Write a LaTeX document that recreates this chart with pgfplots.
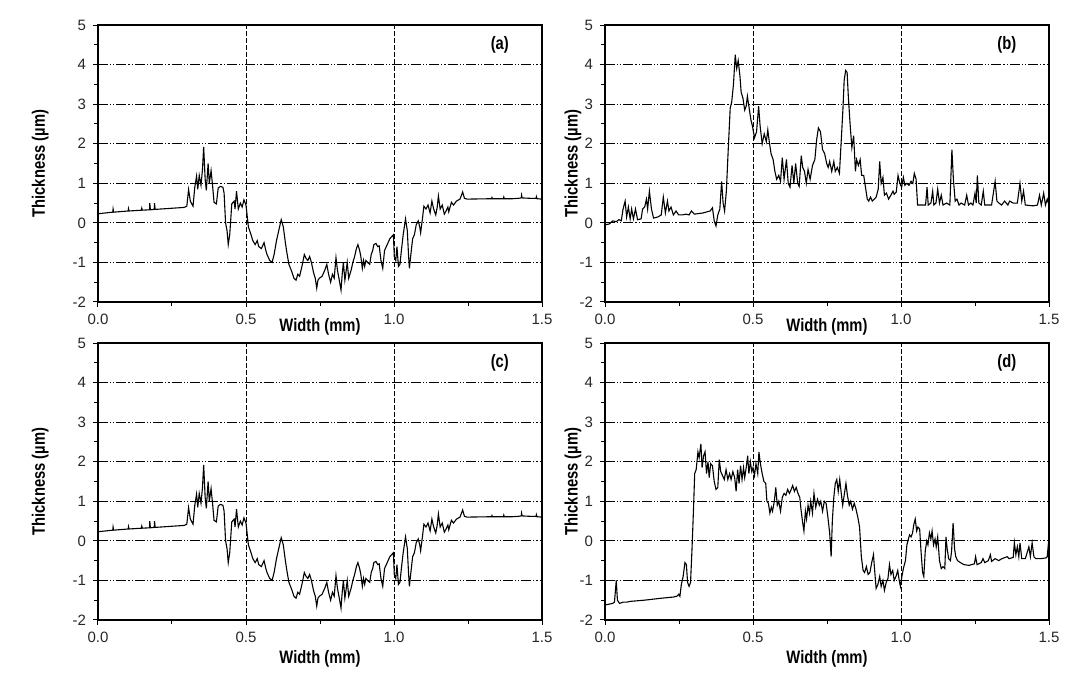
\documentclass[border=0pt]{standalone}
\usepackage{fontspec}
\setmainfont{Liberation Sans}
\newfontfamily\labfont[FakeStretch=0.82]{Liberation Sans}
\usepackage{pgfplots}
\usepackage{pgfplotstable}
\pgfplotsset{compat=1.18}

% profile (a), also used for (c)
\pgfplotstableread{
x y
0.000 0.23
0.050 0.27
0.051 0.35
0.053 0.27
0.102 0.30
0.103 0.36
0.105 0.30
0.147 0.32
0.148 0.37
0.150 0.32
0.174 0.33
0.175 0.50
0.177 0.33
0.190 0.34
0.191 0.50
0.193 0.34
0.291 0.39
0.300 0.42
0.306 0.84
0.312 0.55
0.321 0.42
0.327 0.90
0.333 1.18
0.337 0.85
0.342 1.20
0.348 0.95
0.353 1.35
0.357 1.92
0.362 1.10
0.366 0.82
0.372 1.50
0.376 1.00
0.382 1.32
0.387 0.95
0.392 0.52
0.400 0.48
0.406 0.88
0.413 0.92
0.422 0.90
0.426 0.75
0.431 0.00
0.436 -0.20
0.440 -0.55
0.445 -0.30
0.452 0.48
0.460 0.55
0.463 0.35
0.468 0.80
0.474 0.35
0.481 0.50
0.487 0.40
0.493 0.58
0.500 0.45
0.508 -0.10
0.517 -0.30
0.523 -0.45
0.531 -0.55
0.538 -0.45
0.543 -0.60
0.552 -0.65
0.561 -0.50
0.567 -0.70
0.571 -0.80
0.580 -0.95
0.588 -1.00
0.595 -0.80
0.603 -0.45
0.612 -0.15
0.619 0.08
0.626 -0.10
0.633 -0.50
0.638 -0.75
0.645 -1.05
0.653 -1.20
0.662 -1.40
0.669 -1.45
0.675 -1.30
0.681 -1.35
0.689 -1.10
0.697 -0.80
0.703 -0.90
0.709 -0.95
0.715 -0.85
0.721 -1.00
0.728 -1.25
0.734 -1.40
0.739 -1.65
0.743 -1.45
0.748 -1.40
0.757 -1.35
0.766 -1.20
0.773 -1.05
0.779 -1.30
0.786 -1.50
0.792 -1.30
0.798 -1.40
0.804 -0.88
0.809 -1.20
0.814 -1.40
0.821 -1.70
0.825 -1.30
0.829 -1.00
0.834 -1.45
0.837 -1.30
0.842 -1.00
0.847 -1.40
0.855 -1.20
0.861 -1.00
0.867 -0.85
0.873 -0.65
0.878 -0.55
0.884 -0.70
0.888 -0.85
0.893 -1.15
0.897 -0.95
0.901 -1.10
0.905 -0.95
0.911 -1.00
0.918 -1.05
0.923 -0.80
0.928 -0.70
0.932 -0.55
0.939 -0.52
0.945 -0.60
0.950 -0.58
0.956 -0.95
0.962 -1.15
0.968 -0.70
0.974 -0.60
0.980 -0.50
0.986 -0.40
0.992 -0.35
0.998 -0.30
1.001 -0.85
1.006 -0.95
1.010 -0.60
1.015 -1.10
1.020 -1.05
1.025 -0.70
1.031 -0.30
1.039 0.10
1.045 -0.20
1.049 -0.80
1.052 -1.15
1.057 -0.80
1.063 -0.40
1.069 -0.30
1.075 -0.05
1.082 0.05
1.087 -0.10
1.090 -0.25
1.096 0.10
1.101 0.42
1.108 0.35
1.115 0.45
1.122 0.25
1.128 0.55
1.134 0.35
1.141 0.20
1.146 0.40
1.150 0.68
1.156 0.35
1.163 0.45
1.170 0.22
1.176 0.30
1.182 0.40
1.185 0.28
1.194 0.52
1.201 0.45
1.211 0.55
1.223 0.60
1.232 0.78
1.238 0.62
1.247 0.60
1.330 0.61
1.331 0.64
1.333 0.61
1.370 0.61
1.371 0.65
1.373 0.61
1.400 0.61
1.420 0.62
1.430 0.63
1.431 0.70
1.433 0.63
1.460 0.62
1.480 0.62
1.481 0.66
1.483 0.61
1.500 0.60
}\dataA

% profile (b)
\pgfplotstableread{
x y
0.000 -0.05
0.014 -0.03
0.026 0.05
0.038 0.03
0.047 0.08
0.055 0.05
0.061 0.35
0.068 0.55
0.073 0.15
0.079 0.40
0.085 0.10
0.090 0.35
0.096 0.10
0.103 0.35
0.110 0.08
0.122 0.10
0.127 0.35
0.134 0.40
0.140 0.60
0.144 0.35
0.150 0.80
0.157 0.35
0.164 0.12
0.179 0.15
0.190 0.20
0.197 0.65
0.204 0.25
0.211 0.55
0.216 0.30
0.223 0.40
0.231 0.20
0.240 0.30
0.249 0.20
0.261 0.20
0.273 0.22
0.284 0.20
0.292 0.30
0.302 0.22
0.331 0.25
0.355 0.30
0.363 0.38
0.369 0.05
0.375 -0.08
0.381 0.20
0.388 0.35
0.394 1.05
0.399 0.50
0.404 0.30
0.410 0.80
0.416 1.80
0.423 2.90
0.428 3.05
0.434 3.50
0.440 4.25
0.445 3.90
0.450 4.10
0.456 3.70
0.460 3.30
0.466 3.15
0.472 2.85
0.477 2.95
0.481 3.20
0.486 2.95
0.493 2.60
0.498 2.45
0.505 2.15
0.512 2.30
0.519 2.95
0.524 2.45
0.531 2.00
0.538 2.25
0.545 2.05
0.550 2.35
0.555 2.05
0.561 1.75
0.568 1.60
0.574 1.30
0.580 1.10
0.587 1.20
0.593 1.05
0.599 1.65
0.605 1.10
0.613 1.60
0.619 1.00
0.625 0.90
0.632 1.45
0.638 1.00
0.644 1.50
0.651 1.00
0.656 0.92
0.663 1.70
0.668 1.40
0.674 1.30
0.680 1.00
0.686 1.35
0.693 1.10
0.701 1.45
0.709 1.60
0.715 2.10
0.721 2.40
0.728 2.30
0.735 1.85
0.742 1.75
0.749 1.50
0.754 1.40
0.759 1.55
0.766 1.30
0.773 1.55
0.778 1.30
0.785 1.40
0.792 1.25
0.799 2.20
0.804 2.90
0.808 3.60
0.813 3.85
0.818 3.80
0.822 3.20
0.828 2.50
0.834 1.90
0.840 2.20
0.846 1.30
0.850 1.60
0.856 1.45
0.862 1.60
0.867 1.20
0.874 1.20
0.880 0.90
0.886 0.60
0.891 0.55
0.897 0.65
0.903 0.55
0.910 0.60
0.916 0.65
0.923 0.85
0.928 1.55
0.933 1.00
0.939 1.15
0.944 0.70
0.951 0.75
0.958 0.60
0.966 0.70
0.973 0.80
0.977 0.72
0.984 0.78
0.990 1.20
0.996 1.00
1.002 0.90
1.008 1.15
1.013 0.95
1.020 1.00
1.027 0.95
1.034 1.05
1.040 1.00
1.045 1.25
1.051 1.10
1.056 0.45
1.071 0.45
1.083 0.45
1.088 0.90
1.092 0.45
1.101 0.50
1.107 0.80
1.111 0.45
1.118 0.50
1.124 0.85
1.130 0.50
1.136 0.70
1.142 0.45
1.154 0.50
1.165 0.45
1.172 1.85
1.177 1.10
1.183 0.55
1.189 0.60
1.196 0.45
1.203 0.50
1.215 0.45
1.222 0.70
1.228 0.45
1.236 0.50
1.243 0.45
1.250 0.75
1.254 0.50
1.258 1.20
1.263 0.50
1.271 0.45
1.278 0.80
1.283 0.45
1.306 0.45
1.318 1.05
1.324 0.55
1.331 0.50
1.340 0.45
1.350 0.55
1.361 0.45
1.367 0.55
1.379 0.50
1.393 0.50
1.402 1.00
1.408 0.55
1.414 0.80
1.420 0.45
1.447 0.43
1.461 0.45
1.468 0.70
1.474 0.45
1.482 0.75
1.488 0.45
1.494 0.60
1.500 0.45
}\dataB

% profile (d)
\pgfplotstableread{
x y
0.000 -1.62
0.014 -1.60
0.026 -1.58
0.032 -1.55
0.038 -1.00
0.042 -1.50
0.049 -1.58
0.061 -1.55
0.073 -1.55
0.085 -1.53
0.132 -1.50
0.190 -1.45
0.231 -1.42
0.243 -1.40
0.249 -1.35
0.253 -1.40
0.258 -1.10
0.264 -0.90
0.270 -0.55
0.275 -0.60
0.279 -1.05
0.284 -1.15
0.289 -1.05
0.294 -0.20
0.299 0.80
0.303 1.70
0.308 1.80
0.314 2.25
0.318 2.10
0.324 2.45
0.328 1.85
0.333 2.15
0.338 2.25
0.343 1.70
0.348 2.00
0.352 1.60
0.357 1.95
0.363 1.90
0.369 1.50
0.375 1.30
0.381 1.35
0.386 2.05
0.391 1.75
0.397 1.65
0.403 1.55
0.409 1.80
0.415 1.55
0.421 1.70
0.426 1.55
0.432 1.75
0.438 1.60
0.443 1.25
0.448 1.80
0.453 1.45
0.458 1.90
0.463 1.55
0.468 1.85
0.472 1.60
0.477 1.85
0.482 2.15
0.486 1.70
0.491 2.00
0.496 1.75
0.500 1.85
0.505 1.65
0.510 1.95
0.516 1.70
0.520 2.25
0.525 1.95
0.531 1.70
0.537 1.50
0.543 1.45
0.547 1.00
0.552 0.95
0.557 0.70
0.562 0.85
0.566 0.75
0.572 1.00
0.577 1.35
0.582 0.90
0.587 1.00
0.593 0.75
0.599 1.10
0.605 1.20
0.611 1.15
0.617 1.30
0.623 1.20
0.629 1.30
0.634 1.40
0.640 1.25
0.646 1.35
0.652 1.20
0.658 1.10
0.662 0.80
0.668 0.45
0.672 0.25
0.677 0.75
0.681 0.55
0.686 0.90
0.691 0.70
0.695 1.00
0.701 0.70
0.706 1.20
0.712 0.85
0.718 1.05
0.724 0.90
0.729 1.00
0.735 0.75
0.741 1.00
0.747 0.95
0.753 0.60
0.759 0.20
0.764 -0.40
0.768 0.50
0.773 1.10
0.778 1.45
0.783 1.55
0.788 1.25
0.793 1.55
0.799 1.15
0.803 0.90
0.809 1.20
0.814 1.45
0.819 1.15
0.825 0.90
0.830 1.00
0.836 0.80
0.842 0.95
0.848 0.80
0.854 0.60
0.860 0.35
0.866 -0.40
0.872 -0.75
0.877 -0.80
0.883 -0.65
0.889 -0.85
0.895 -0.80
0.901 -0.55
0.907 -0.35
0.911 -0.75
0.916 -1.20
0.922 -1.10
0.928 -0.90
0.933 -1.15
0.939 -1.00
0.944 -1.25
0.950 -1.05
0.956 -0.95
0.961 -0.60
0.966 -0.85
0.972 -0.75
0.977 -1.00
0.983 -0.90
0.989 -0.75
0.994 -1.00
0.998 -1.15
1.003 -0.90
1.008 -0.70
1.015 -0.50
1.020 -0.10
1.025 0.05
1.029 0.15
1.034 0.10
1.039 0.20
1.043 0.40
1.048 0.55
1.053 0.25
1.057 0.35
1.063 0.30
1.068 -0.30
1.073 -0.80
1.077 -0.90
1.082 -0.25
1.087 0.00
1.091 -0.10
1.096 0.20
1.101 0.05
1.105 0.25
1.110 -0.10
1.115 0.05
1.119 -0.15
1.124 0.10
1.130 -0.50
1.136 -0.70
1.142 -0.65
1.148 -0.70
1.152 0.10
1.156 -0.20
1.161 -0.45
1.167 -0.50
1.171 -0.25
1.176 0.45
1.181 -0.20
1.185 -0.40
1.191 -0.50
1.201 -0.55
1.212 -0.60
1.230 -0.62
1.248 -0.58
1.252 -0.40
1.257 -0.60
1.271 -0.55
1.277 -0.45
1.283 -0.55
1.295 -0.50
1.302 -0.35
1.306 -0.52
1.318 -0.45
1.330 -0.50
1.341 -0.45
1.359 -0.40
1.365 -0.45
1.379 -0.42
1.383 -0.05
1.388 -0.35
1.393 -0.15
1.398 -0.40
1.402 -0.05
1.408 -0.45
1.420 -0.45
1.426 -0.30
1.432 -0.15
1.437 -0.40
1.443 -0.05
1.449 -0.40
1.455 -0.45
1.473 -0.45
1.491 -0.43
1.494 -0.40
1.500 0.10
}\dataD

\pgfplotsset{
  panel/.style={
    scale only axis, width=222pt, height=138.5pt,
    xmin=0, xmax=1.5, ymin=-2, ymax=5,
    xtick={0,0.5,1,1.5}, ytick={-2,-1,0,1,2,3,4,5},
    minor x tick num=1, minor y tick num=1,
    tick pos=left, tick align=outside,
    major tick length=2.5pt, minor tick length=2pt,
    every tick/.style={black, line width=0.5pt},
    xmajorgrids, ymajorgrids,
    x grid style={black, line width=0.45pt, dash pattern=on 2.5pt off 1pt},
    y grid style={black, line width=0.45pt, dash pattern=on 5pt off 1pt on 0.6pt off 1pt on 0.6pt off 1pt},
    axis line style={line width=0.6pt},
    /pgf/number format/assume math mode=true,
    xticklabel style={/pgf/number format/fixed, /pgf/number format/fixed zerofill, /pgf/number format/precision=1},
    ticklabel style={font=\fontsize{7.5}{8}\selectfont, text=black!85},
    label style={font=\labfont\bfseries\fontsize{9}{10}\selectfont},
    xlabel={Width (mm)}, ylabel={Thickness (µm)},
  },
  curve/.style={black, line width=0.55pt, mark=none},
}

\newcommand{\tag}[1]{\node[font=\labfont\bfseries\fontsize{9}{10}\selectfont] at (rel axis cs:0.905,0.93) {#1};}

\begin{document}
\begin{tikzpicture}
\path[use as bounding box] (0,0) rectangle (541.5pt,339.5pt);

\begin{axis}[panel, at={(49pt,188.5pt)}, anchor=south west,
  ylabel style={at={(axis description cs:-0.13,0.5)}, anchor=center},
  xlabel style={at={(axis description cs:0.5,-0.09)}, anchor=center}]
\addplot[curve] table {\dataA};
\tag{(a)}
\end{axis}

\begin{axis}[panel, at={(302.5pt,188.5pt)}, anchor=south west,
  ylabel style={at={(axis description cs:-0.072,0.5)}, anchor=center},
  xlabel style={at={(axis description cs:0.5,-0.09)}, anchor=center}]
\addplot[curve] table {\dataB};
\tag{(b)}
\end{axis}

\begin{axis}[panel, at={(49pt,29.5pt)}, anchor=south west,
  ylabel style={at={(axis description cs:-0.13,0.5)}, anchor=center},
  xlabel style={at={(axis description cs:0.5,-0.141)}, anchor=center}]
\addplot[curve] table {\dataA};
\tag{(c)}
\end{axis}

\begin{axis}[panel, at={(302.5pt,29.5pt)}, anchor=south west,
  ylabel style={at={(axis description cs:-0.072,0.5)}, anchor=center},
  xlabel style={at={(axis description cs:0.5,-0.141)}, anchor=center}]
\addplot[curve] table {\dataD};
\tag{(d)}
\end{axis}
\end{tikzpicture}
\end{document}
